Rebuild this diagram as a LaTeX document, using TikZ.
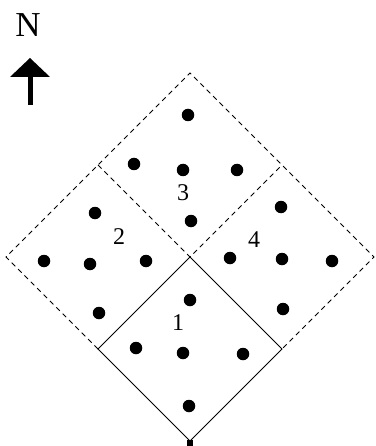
\documentclass[tikz,border=0pt]{standalone}
\usepackage{fontspec}
\setmainfont{Liberation Serif}
\begin{document}
\begin{tikzpicture}[x=1pt,y=-1pt,
  dot/.style={circle,fill=black,inner sep=0pt,minimum size=12.5pt},
  lbl/.style={inner sep=0pt,font=\fontsize{24}{24}\selectfont},
  dashedline/.style={line width=0.8pt,dash pattern=on 5pt off 4pt},
  solidline/.style={line width=0.8pt}]
\useasboundingbox (0,0) rectangle (375,446);
% corners
\coordinate (T) at (190,73);
\coordinate (L) at (6,257);
\coordinate (R) at (374,257);
\coordinate (B) at (190,441);
\coordinate (C) at (190,257);
\coordinate (ML) at (98,165);
\coordinate (MR) at (282,165);
\coordinate (PL) at (98,349);
\coordinate (PR) at (282,349);
% dashed outline
\draw[dashedline] (PL) -- (L) -- (T) -- (R) -- (PR);
\draw[dashedline] (ML) -- (C) -- (MR);
% solid square 1
\draw[solidline] (C) -- (PR) -- (B) -- (PL) -- cycle;
\fill (187,440) rectangle (193,446);
% north arrow
\node[inner sep=0pt,font=\fontsize{35}{35}\selectfont] (N) at (28,25) {N};
\coordinate (ah) at (30,58);
\fill (ah) -- (10,77) -- (50,77) -- cycle;
\fill (27.5,76) rectangle (32.5,105);
% labels
\node[lbl] (l3) at (183,193) {3};
\node[lbl] (l2) at (119,237) {2};
\node[lbl] (l4) at (254,240) {4};
\node[lbl] (l1) at (178,323) {1};
% dots square 3
\node[dot] (a1) at (188,115) {};
\node[dot] (a2) at (134,164) {};
\node[dot] (a3) at (183,170) {};
\node[dot] (a4) at (237,170) {};
\node[dot] (a5) at (191,221) {};
% dots square 2
\node[dot] (b1) at (95,213) {};
\node[dot] (b2) at (44,261) {};
\node[dot] (b3) at (90,264) {};
\node[dot] (b4) at (146,261) {};
\node[dot] (b5) at (99,313) {};
% dots square 4
\node[dot] (c1) at (281,207) {};
\node[dot] (c2) at (230,258) {};
\node[dot] (c3) at (282,259) {};
\node[dot] (c4) at (332,261) {};
\node[dot] (c5) at (283,309) {};
% dots square 1
\node[dot] (e1) at (190,300) {};
\node[dot] (e2) at (136,348) {};
\node[dot] (e3) at (183,353) {};
\node[dot] (e4) at (243,354) {};
\node[dot] (e5) at (189,406) {};
\end{tikzpicture}
\end{document}
